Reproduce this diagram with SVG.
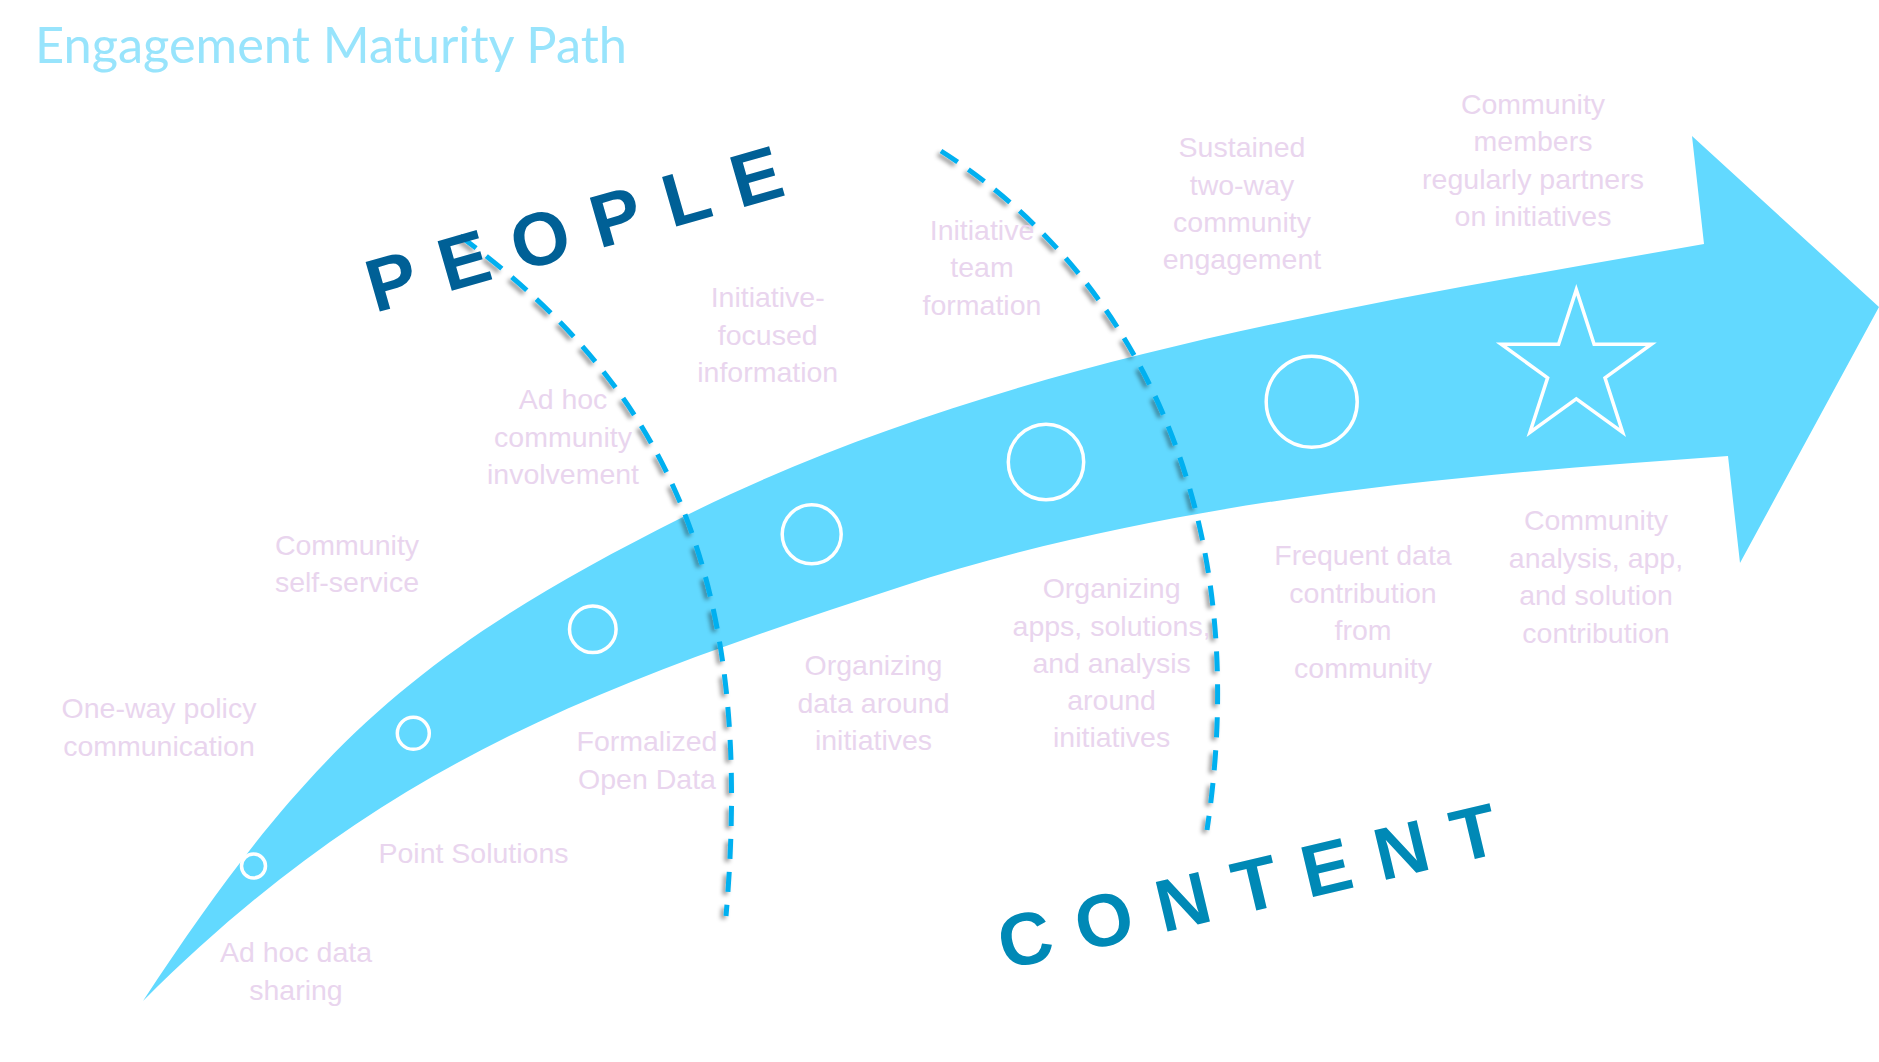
<svg xmlns="http://www.w3.org/2000/svg" width="1879" height="1062" viewBox="0 0 1879 1062">
  <defs>
    <filter id="shadow" x="-20%" y="-20%" width="140%" height="140%">
      <feDropShadow dx="-3" dy="3" stdDeviation="2" flood-color="#000" flood-opacity="0.4"/>
    </filter>
    <style>
      .lbl { font-family: "Liberation Sans", Arial, sans-serif; font-size: 28.5px; fill: #E9D5EE; text-anchor: middle; }
      .ms { fill: none; stroke: #FFFFFF; stroke-width: 3.5; }
      .div { fill: none; stroke: #00B0F0; stroke-width: 5; stroke-dasharray: 20 13; filter: url(#shadow); }
      .big { font-family: "Liberation Sans", Arial, sans-serif; font-weight: bold; }
    </style>
  </defs>
  <rect width="1879" height="1062" fill="#FFFFFF"/>

  <text id="title" x="35" y="63" font-family="Lato, 'Open Sans', sans-serif" font-size="50" fill="#98E4FC" textLength="592" lengthAdjust="spacingAndGlyphs">Engagement Maturity Path</text>

  <g id="connectors">
    <path id="maturity-arrow" d="M143,1001 C307.4,750.2 414.8,651.1 683,517 C996,360.5 1359,305 1704,244 L1692,136 L1879,307 L1740,563 L1728,456 C1449,475.5 1166,500 900,587 C586.5,689.3 376.3,767.7 143,1001 Z" fill="#62D9FF"/>
    <path id="divider-1" class="div" d="M460,236 C660,383.5 756.5,567.4 726,916"/>
    <path id="divider-2" class="div" d="M941,151 C1127,268.7 1256.5,503.3 1207,830"/>
  </g>

  <g id="axis-people">
    <text class="big" x="0" y="0" font-size="75" fill="#006096" letter-spacing="25" transform="translate(375,313) rotate(-16)">PEOPLE</text>
  </g>
  <g id="axis-content">
    <text class="big" x="0" y="0" font-size="74" fill="#0089B6" letter-spacing="25.5" transform="translate(1005,970) rotate(-13.3)">CONTENT</text>
  </g>

  <g id="stage-1">
    <circle class="ms" cx="253.5" cy="866" r="12"/>
    <text class="lbl" x="296" y="962">Ad hoc data<tspan x="296" dy="37.5">sharing</tspan></text>
    <text class="lbl" x="159" y="718">One-way policy<tspan x="159" dy="37.5">communication</tspan></text>
  </g>
  <g id="stage-2">
    <circle class="ms" cx="413.3" cy="733.3" r="16"/>
    <text class="lbl" x="473.5" y="862.5">Point Solutions</text>
    <text class="lbl" x="347" y="554.5">Community<tspan x="347" dy="37.5">self-service</tspan></text>
  </g>
  <g id="stage-3">
    <circle class="ms" cx="592.8" cy="629.3" r="23.3"/>
    <text class="lbl" x="647" y="751">Formalized<tspan x="647" dy="37.5">Open Data</tspan></text>
    <text class="lbl" x="563" y="409">Ad hoc<tspan x="563" dy="37.5">community</tspan><tspan x="563" dy="37.5">involvement</tspan></text>
  </g>
  <g id="stage-4">
    <circle class="ms" cx="811.7" cy="534.3" r="29.5"/>
    <text class="lbl" x="873.5" y="675">Organizing<tspan x="873.5" dy="37.5">data around</tspan><tspan x="873.5" dy="37.5">initiatives</tspan></text>
    <text class="lbl" x="767.7" y="307">Initiative-<tspan x="767.7" dy="37.5">focused</tspan><tspan x="767.7" dy="37.5">information</tspan></text>
  </g>
  <g id="stage-5">
    <circle class="ms" cx="1046" cy="462" r="37.7"/>
    <text class="lbl" x="1111.6" y="598.3">Organizing<tspan x="1111.6" dy="37.2">apps, solutions,</tspan><tspan x="1111.6" dy="37.2">and analysis</tspan><tspan x="1111.6" dy="37.2">around</tspan><tspan x="1111.6" dy="37.2">initiatives</tspan></text>
    <text class="lbl" x="982" y="240">Initiative<tspan x="982" dy="37.3">team</tspan><tspan x="982" dy="37.3">formation</tspan></text>
  </g>
  <g id="stage-6">
    <circle class="ms" cx="1311.7" cy="401.7" r="45.5"/>
    <text class="lbl" x="1363" y="565">Frequent data<tspan x="1363" dy="37.6">contribution</tspan><tspan x="1363" dy="37.6">from</tspan><tspan x="1363" dy="37.6">community</tspan></text>
    <text class="lbl" x="1242" y="157.3">Sustained<tspan x="1242" dy="37.3">two-way</tspan><tspan x="1242" dy="37.3">community</tspan><tspan x="1242" dy="37.3">engagement</tspan></text>
  </g>
  <g id="stage-7">
    <polygon class="ms" stroke-width="4" points="1576.3,289.6 1594.1,344.2 1651.4,344.2 1605,377.9 1622.7,432.5 1576.3,398.8 1529.9,432.5 1547.6,377.9 1501.2,344.2 1558.6,344.2"/>
    <text class="lbl" x="1596" y="530">Community<tspan x="1596" dy="37.7">analysis, app,</tspan><tspan x="1596" dy="37.7">and solution</tspan><tspan x="1596" dy="37.7">contribution</tspan></text>
    <text class="lbl" x="1533" y="113.5">Community<tspan x="1533" dy="37.5">members</tspan><tspan x="1533" dy="37.5">regularly partners</tspan><tspan x="1533" dy="37.5">on initiatives</tspan></text>
  </g>
</svg>
